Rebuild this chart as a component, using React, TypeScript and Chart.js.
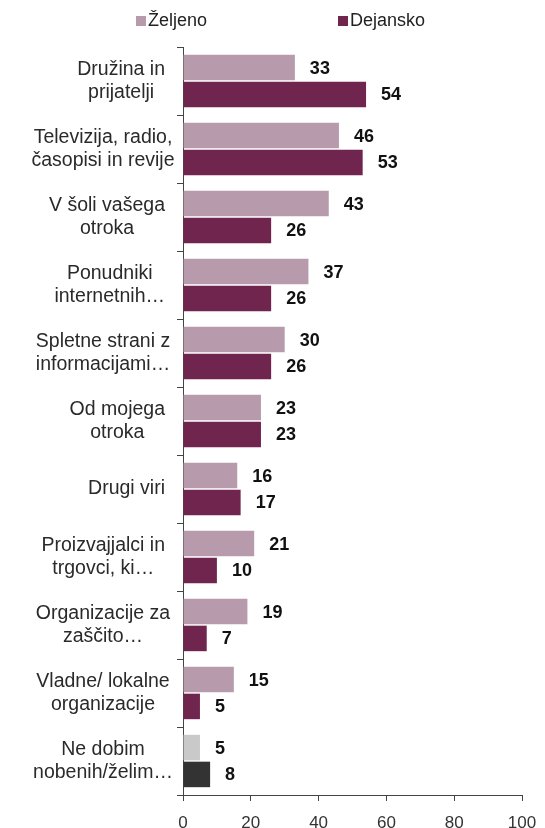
import React, { useEffect, useRef } from 'react';
import { Chart, registerables } from 'chart.js';

Chart.register(...registerables);

const categories: string[][] = [
  ['Družina in', 'prijatelji'],
  ['Televizija, radio,', 'časopisi in revije'],
  ['V šoli vašega', 'otroka'],
  ['Ponudniki', 'internetnih…'],
  ['Spletne strani z', 'informacijami…'],
  ['Od mojega', 'otroka'],
  ['Drugi viri'],
  ['Proizvajjalci in', 'trgovci, ki…'],
  ['Organizacije za', 'zaščito…'],
  ['Vladne/ lokalne', 'organizacije'],
  ['Ne dobim', 'nobenih/želim…'],
];

const seriesNames = ['Željeno', 'Dejansko'];
const zeljeno = [33, 46, 43, 37, 30, 23, 16, 21, 19, 15, 5];
const dejansko = [54, 53, 26, 26, 26, 23, 17, 10, 7, 5, 8];
const xTicks = [0, 20, 40, 60, 80, 100];

const LIGHT = '#B79BAD';
const DARK = '#70254F';
const LIGHT_GRAY = '#C9C9C9';
const DARK_GRAY = '#333333';
const FONT = '"Liberation Sans", Arial, sans-serif';

const colorsFor = (main: string, last: string) =>
  categories.map((_, i) => (i === categories.length - 1 ? last : main));

const valueLabels = {
  id: 'valueLabels',
  afterDatasetsDraw(chart: any) {
    const ctx = chart.ctx;
    ctx.save();
    ctx.font = `bold 18px ${FONT}`;
    ctx.fillStyle = '#111';
    ctx.textAlign = 'left';
    ctx.textBaseline = 'middle';
    chart.data.datasets.forEach((ds: any, di: number) => {
      const meta = chart.getDatasetMeta(di);
      meta.data.forEach((el: any, i: number) => {
        ctx.fillText(String(ds.data[i]), el.x + 15, el.y + 1);
      });
    });
    ctx.restore();
  },
};

const categoryLabels = {
  id: 'categoryLabels',
  afterDraw(chart: any) {
    const ctx = chart.ctx;
    const yScale = chart.scales.y;
    const rightEdge = chart.chartArea.left - 18;
    const lineH = 23;
    ctx.save();
    ctx.font = `19.5px ${FONT}`;
    ctx.fillStyle = '#2a2a2a';
    ctx.textAlign = 'center';
    ctx.textBaseline = 'middle';
    categories.forEach((lines, i) => {
      const cy = yScale.getPixelForValue(i);
      const w = Math.max(...lines.map((l) => ctx.measureText(l).width));
      const cx = Math.max(rightEdge - w / 2, rightEdge - 62);
      const y0 = cy - ((lines.length - 1) * lineH) / 2;
      lines.forEach((l, k) => ctx.fillText(l, cx, y0 + k * lineH));
    });
    ctx.restore();
  },
};

export default function App() {
  const ref = useRef<HTMLCanvasElement>(null);

  useEffect(() => {
    if (!ref.current) return;
    const chart = new Chart(ref.current, {
      type: 'bar',
      data: {
        labels: categories.map((c) => c.join(' ')),
        datasets: [
          {
            label: seriesNames[0],
            data: zeljeno,
            backgroundColor: colorsFor(LIGHT, LIGHT_GRAY),
            categoryPercentage: 0.79,
            barPercentage: 0.95,
          },
          {
            label: seriesNames[1],
            data: dejansko,
            backgroundColor: colorsFor(DARK, DARK_GRAY),
            categoryPercentage: 0.79,
            barPercentage: 0.95,
          },
        ],
      },
      options: {
        indexAxis: 'y',
        animation: false,
        responsive: true,
        maintainAspectRatio: false,
        layout: { padding: { top: 47, right: 23, left: 0, bottom: 0 } },
        plugins: {
          legend: { display: false },
          tooltip: { enabled: false },
        },
        scales: {
          x: {
            min: 0,
            max: 100,
            afterBuildTicks: (scale: any) => {
              scale.ticks = xTicks.map((v) => ({ value: v }));
            },
            afterFit: (scale: any) => {
              scale.height = 33;
              scale.paddingLeft = 0;
              scale.paddingRight = 0;
            },
            ticks: {
              font: { family: FONT, size: 17 },
              color: '#333',
              padding: 12,
              maxRotation: 0,
            },
            grid: {
              drawOnChartArea: false,
              drawTicks: true,
              tickLength: 6,
              color: '#444',
            },
            border: { color: '#444', width: 1 },
          },
          y: {
            offset: true,
            afterFit: (scale: any) => {
              scale.width = 183;
            },
            ticks: { callback: () => '', padding: 0 },
            grid: {
              offset: true,
              drawOnChartArea: false,
              drawTicks: true,
              tickLength: 6,
              color: '#444',
            },
            border: { color: '#444', width: 1 },
          },
        },
      },
      plugins: [valueLabels, categoryLabels],
    });
    return () => chart.destroy();
  }, []);

  const legendText: React.CSSProperties = {
    position: 'absolute',
    top: 9,
    font: `18px ${FONT}`,
    color: '#222',
    lineHeight: '22px',
  };
  const box: React.CSSProperties = {
    position: 'absolute',
    top: 16,
    width: 10,
    height: 10,
  };

  return (
    <div style={{ position: 'absolute', left: 0, top: 0, width: 545, height: 828, background: '#fff', overflow: 'hidden' }}>
      <canvas ref={ref} />
      <div style={{ ...box, left: 136, background: LIGHT }} />
      <div style={{ ...legendText, left: 148 }}>{seriesNames[0]}</div>
      <div style={{ ...box, left: 338, background: DARK }} />
      <div style={{ ...legendText, left: 350 }}>{seriesNames[1]}</div>
    </div>
  );
}
